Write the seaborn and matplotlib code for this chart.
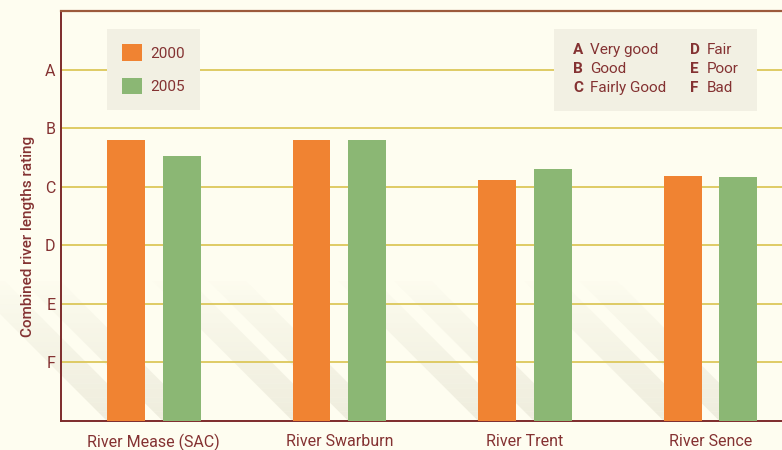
import matplotlib
matplotlib.use("Agg")
import matplotlib.pyplot as plt
import seaborn as sns
import pandas as pd
import numpy as np
from matplotlib.patches import Polygon, Rectangle

# ---- data ----
rivers = ["River Mease (SAC)", "River Swarburn", "River Trent", "River Sence"]
years = ["2000", "2005"]
rating_2000 = [4.80, 4.80, 4.11, 4.18]
rating_2005 = [4.52, 4.80, 4.30, 4.16]
grade_values = [1, 2, 3, 4, 5, 6]
grade_letters = ["F", "E", "D", "C", "B", "A"]
key_letters = ["A", "B", "C", "D", "E", "F"]
key_names = ["Very good", "Good", "Fairly Good", "Fair", "Poor", "Bad"]

sns.set_theme(style="white")
plt.rcParams['font.family'] = ['Roboto', 'DejaVu Sans']

BG = "#fefdf0"
TXT = "#843232"
ORANGE = "#f08332"
GREEN = "#8bb774"
GRID = "#dcc75a"
BOXC = "#f2f0e3"

W, H = 782, 450
fig = plt.figure(figsize=(W / 100, H / 100), dpi=100, facecolor=BG)
ax = fig.add_axes([61 / W, 29 / H, 721 / W, 410 / H])
ax.set_facecolor(BG)

df = pd.DataFrame({
    "River": rivers * 2,
    "Year": [years[0]] * len(rivers) + [years[1]] * len(rivers),
    "Rating": rating_2000 + rating_2005,
})
sns.barplot(data=df, x="River", y="Rating", hue="Year", palette=[ORANGE, GREEN],
            width=0.6, gap=0.32, saturation=1, errorbar=None, ax=ax, zorder=3,
            linewidth=0, edgecolor="none")

ax.set_xlim(-0.5, 3.385)
ax.set_ylim(0, 7)

# grid / ticks
ax.set_yticks(grade_values, grade_letters)
ax.yaxis.grid(True, color=GRID, lw=1.3)
ax.xaxis.grid(False)
ax.set_axisbelow(True)
ax.tick_params(axis="y", length=0, pad=4, labelsize=11.5, labelcolor=TXT)
ax.tick_params(axis="x", which="major", length=0, pad=9.5, labelsize=11.5, labelcolor=TXT)
ax.set_xticks([-0.5, 0.5, 1.5, 2.5], minor=True)
ax.tick_params(axis="x", which="minor", length=5, width=1, color=TXT, direction="out")

for s in ["left", "bottom"]:
    ax.spines[s].set_color("#7d2b2b")
    ax.spines[s].set_linewidth(1.4)
ax.spines["top"].set_color("#9c5a3c")
ax.spines["top"].set_linewidth(1.6)
ax.spines["right"].set_visible(False)

ax.set_xlabel("")
ax.set_ylabel("Combined river lengths rating", fontsize=11, color=TXT, fontweight="medium")
ax.yaxis.set_label_coords(-0.036, 0.45)

# shadows cast by bars (derived from the drawn bars)
fig.canvas.draw()
bars = [p for p in ax.patches if isinstance(p, Rectangle) and p.get_height() > 0]
to_px = ax.transData
inv = ax.transData.inverted()
L = 140.0
N = 30
for b in bars:
    x0, w = b.get_x(), b.get_width()
    (px0, py0) = to_px.transform((x0, 0))
    (px1, _) = to_px.transform((x0 + w, 0))
    for i in range(N):
        d0 = L * i / N
        d1 = L * (i + 1) / N
        pts_px = [(px0 - d0, py0 + d0), (px1 - d0, py0 + d0),
                  (px1 - d1, py0 + d1), (px0 - d1, py0 + d1)]
        pts = inv.transform(pts_px)
        a = 0.6 * (1 - i / N) ** 0.8
        ax.add_patch(Polygon(pts, closed=True, facecolor="#e5e3d2", edgecolor="none",
                             alpha=a, zorder=0.3, clip_on=False))

# year legend
handles, labels = ax.get_legend_handles_labels()
if ax.get_legend() is not None:
    ax.get_legend().remove()
leg = ax.legend(handles, labels, loc="upper left",
                bbox_to_anchor=((107 - 61) / 721, (421 - 29) / 410),
                borderaxespad=0, fontsize=11, frameon=True, fancybox=False,
                handlelength=1.3, handleheight=1.3, handletextpad=0.5,
                borderpad=1.0, labelspacing=1.1)
leg.get_frame().set_facecolor(BOXC)
leg.get_frame().set_edgecolor("none")
leg.get_frame().set_alpha(1)
for t in leg.get_texts():
    t.set_color(TXT)

# rating key box
def fx(x):
    return x / W

def fy(y):
    return 1 - y / H

fig.patches.append(Rectangle((fx(554), fy(111)), fx(757) - fx(554), fy(29) - fy(111),
                             transform=fig.transFigure, facecolor=BOXC,
                             edgecolor="none", zorder=5))
row_y = [50, 69, 88]
for i, (letter, name) in enumerate(zip(key_letters, key_names)):
    col = i // 3
    row = i % 3
    lx = 573 if col == 0 else 690
    fig.text(fx(lx), fy(row_y[row]), letter, fontsize=11, fontweight="bold",
             color=TXT, ha="left", va="center", zorder=6)
    fig.text(fx(lx + 17), fy(row_y[row]), name, fontsize=11,
             color=TXT, ha="left", va="center", zorder=6)

fig.savefig("out.png", dpi=100, facecolor=BG)
